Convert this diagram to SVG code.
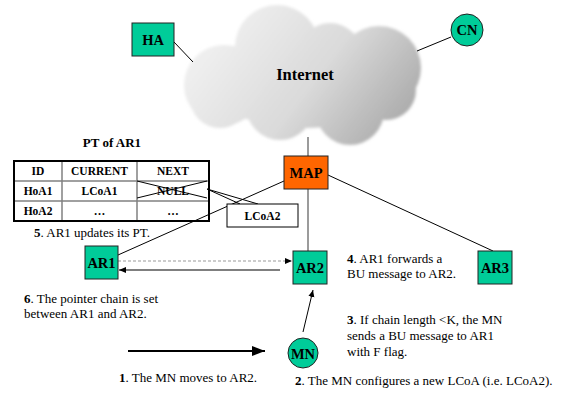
<svg xmlns="http://www.w3.org/2000/svg" width="573" height="398" viewBox="0 0 573 398" font-family="'Liberation Serif', 'Times New Roman', Times, serif">
  <style>
    text { font-family: 'Liberation Serif', 'Times New Roman', Times, serif; fill: #000; }
    .node { fill: #00cc99; stroke: #222; stroke-width: 1; }
    .map { fill: #ff6600; stroke: #222; stroke-width: 1; }
    .lbl { font-size: 14.5px; font-weight: bold; text-anchor: middle; }
    .note { font-size: 13px; }
    .link { stroke: #000; stroke-width: 1; fill: none; }
    .trunk { stroke: #7a7a7a; stroke-width: 1.5; fill: none; }
    .cell { font-size: 11.5px; font-weight: bold; text-anchor: middle; }
    .grid { stroke: #808080; stroke-width: 1.5; fill: none; }
  </style>
  <defs>
    <linearGradient id="cloudFill" gradientUnits="userSpaceOnUse" x1="230" y1="15" x2="400" y2="145">
      <stop offset="0" stop-color="#efefef"/>
      <stop offset="0.5" stop-color="#dadada"/>
      <stop offset="1" stop-color="#a6a6a6"/>
    </linearGradient>
    <filter id="soft" x="-10%" y="-10%" width="120%" height="120%">
      <feGaussianBlur stdDeviation="1.6"/>
    </filter>
    <marker id="headSmall" markerWidth="8" markerHeight="8" refX="7" refY="4" orient="auto" markerUnits="userSpaceOnUse">
      <path d="M0,1 L7,4 L0,7 Z" fill="#000"/>
    </marker>
    <marker id="headBig" markerWidth="14" markerHeight="12" refX="13" refY="6" orient="auto" markerUnits="userSpaceOnUse">
      <path d="M0,1 L13,6 L0,11 Z" fill="#000"/>
    </marker>
  </defs>

  <!-- Internet cloud -->
  <g id="internet">
    <g fill="url(#cloudFill)" filter="url(#soft)">
      <circle cx="224" cy="85" r="40"/>
      <circle cx="277" cy="47" r="42"/>
      <circle cx="330" cy="55" r="32"/>
      <circle cx="379" cy="68" r="42"/>
      <circle cx="386" cy="90" r="30"/>
      <circle cx="350" cy="111" r="34"/>
      <circle cx="280" cy="106" r="34"/>
      <circle cx="220" cy="98" r="30"/>
      <ellipse cx="305" cy="80" rx="100" ry="48"/>
    </g>
    <text x="305" y="80" font-size="16.5px" font-weight="bold" text-anchor="middle">Internet</text>
  </g>

  <!-- connectors -->
  <g id="connectors">
    <line class="link" x1="174" y1="42" x2="193" y2="62"/>
    <line class="link" x1="451" y1="37" x2="417" y2="51"/>
    <line class="trunk" x1="308" y1="137" x2="308" y2="156"/>
    <line class="trunk" x1="308" y1="189" x2="308" y2="251"/>
    <line class="link" x1="118" y1="255" x2="284" y2="181"/>
    <line class="link" x1="328" y1="175" x2="493" y2="251"/>
    <!-- BU forwarded from AR1 to AR2 -->
    <line x1="118" y1="261" x2="292" y2="261" stroke="#999" stroke-width="1.2" stroke-dasharray="3,2" marker-end="url(#headSmall)"/>
    <!-- BU from AR2 towards AR1 -->
    <line x1="280" y1="270" x2="119" y2="270" stroke="#000" stroke-width="1.2" marker-end="url(#headSmall)"/>
    <!-- MN to AR2 -->
    <line x1="303" y1="332" x2="313" y2="290" stroke="#000" stroke-width="1" marker-end="url(#headSmall)"/>
    <!-- MN movement -->
    <line x1="128" y1="351" x2="265" y2="351" stroke="#000" stroke-width="2" marker-end="url(#headBig)"/>
  </g>

  <g id="ha">
    <rect class="node" x="132" y="23" width="42" height="33"/>
    <text class="lbl" x="153" y="45">HA</text>
  </g>
  <g id="cn">
    <circle class="node" cx="467" cy="30" r="16"/>
    <text class="lbl" x="467" y="35">CN</text>
  </g>
  <g id="map">
    <rect class="map" x="284" y="156" width="44" height="33"/>
    <text class="lbl" x="306" y="178">MAP</text>
  </g>
  <g id="ar1">
    <rect class="node" x="85" y="246" width="33" height="33"/>
    <text class="lbl" x="101.5" y="268">AR1</text>
  </g>
  <g id="ar2">
    <rect class="node" x="293" y="251" width="34" height="33"/>
    <text class="lbl" x="310" y="273">AR2</text>
  </g>
  <g id="ar3">
    <rect class="node" x="478" y="251" width="34" height="33"/>
    <text class="lbl" x="495" y="273">AR3</text>
  </g>
  <g id="mn">
    <circle class="node" cx="303" cy="353" r="15"/>
    <text class="lbl" x="303" y="359" font-size="16px">MN</text>
  </g>

  <!-- pointer table of AR1 -->
  <g id="pt-ar1">
    <text x="112" y="147" font-size="13px" font-weight="bold" text-anchor="middle">PT of AR1</text>
    <line class="grid" x1="62" y1="161" x2="62" y2="221"/>
    <line class="grid" x1="137" y1="161" x2="137" y2="221"/>
    <line class="grid" x1="14" y1="181" x2="209" y2="181"/>
    <line class="grid" x1="14" y1="201" x2="209" y2="201"/>
    <rect x="14" y="161" width="195" height="60" fill="none" stroke="#000" stroke-width="2"/>
    <text class="cell" x="38" y="175">ID</text>
    <text class="cell" x="99.5" y="175">CURRENT</text>
    <text class="cell" x="173" y="175">NEXT</text>
    <text class="cell" x="38" y="195">HoA1</text>
    <text class="cell" x="99.5" y="195">LCoA1</text>
    <text class="cell" x="173" y="195">NULL</text>
    <text class="cell" x="38" y="215">HoA2</text>
    <text class="cell" x="99.5" y="215">…</text>
    <text class="cell" x="173" y="215">…</text>
    <line class="link" x1="137" y1="181" x2="207" y2="198"/>
    <line class="link" x1="137" y1="198" x2="207" y2="181"/>
    <line class="link" x1="207" y1="189" x2="240" y2="204"/>
    <line class="link" x1="207" y1="189" x2="258" y2="204"/>
  </g>
  <g id="lcoa2">
    <rect x="227" y="204" width="71" height="23" fill="#fff" stroke="#000" stroke-width="1"/>
    <text class="cell" x="262.5" y="220">LCoA2</text>
  </g>

  <!-- step notes -->
  <g id="notes">
    <text class="note" x="34" y="237"><tspan font-weight="bold">5</tspan>. AR1 updates its PT.</text>
    <text class="note" x="347" y="263"><tspan font-weight="bold">4</tspan>. AR1 forwards a</text>
    <text class="note" x="347" y="278">BU message to AR2.</text>
    <text class="note" x="24" y="303"><tspan font-weight="bold">6</tspan>. The pointer chain is set</text>
    <text class="note" x="24" y="318">between AR1 and AR2.</text>
    <text class="note" x="347" y="324"><tspan font-weight="bold">3</tspan>. If chain length &lt;K, the MN</text>
    <text class="note" x="347" y="340">sends a BU message to AR1</text>
    <text class="note" x="347" y="356">with F flag.</text>
    <text class="note" x="119" y="382"><tspan font-weight="bold">1</tspan>. The MN moves to AR2.</text>
    <text class="note" x="295" y="385"><tspan font-weight="bold">2</tspan>. The MN configures a new LCoA (i.e. LCoA2).</text>
  </g>
</svg>
